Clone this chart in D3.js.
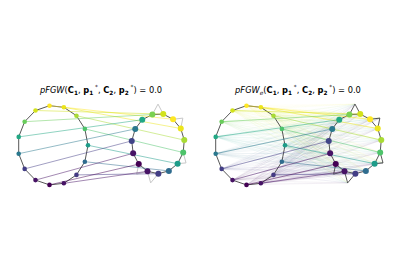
<!DOCTYPE html>
<html>
<head>
<meta charset="utf-8">
<script src="https://cdn.jsdelivr.net/npm/d3@7"></script>
<style>
  body { margin: 0; background: #fff; }
  svg { display: block; }
</style>
</head>
<body>
<svg id="chart" width="400" height="280"></svg>
<script>
// graph 1: ring of 15 nodes
const g1X = [-0.10, 0.31, 0.67, 0.91, 1.00, 0.91, 0.67, 0.31, -0.10, -0.50, -0.81, -0.98, -0.98, -0.81, -0.50]
const g1Y = [0.99, 0.95, 0.74, 0.41, 0.00, -0.41, -0.74, -0.95, -0.99, -0.87, -0.59, -0.21, 0.21, 0.59, 0.87]
const g1Val = [1.0, 0.97, 0.87, 0.72, 0.55, 0.35, 0.17, 0.05, 0.0, 0.05, 0.18, 0.4, 0.6, 0.77, 0.93]

// graph 2: ring of 15 nodes + 5 outlier nodes
const g2X = [2.84, 3.15, 3.43, 3.65, 3.75, 3.72, 3.56, 3.31, 3.01, 2.70, 2.45, 2.29, 2.25, 2.35, 2.55]
const g2Y = [0.77, 0.78, 0.65, 0.42, 0.13, -0.18, -0.46, -0.64, -0.71, -0.65, -0.47, -0.20, 0.11, 0.41, 0.64]
const g2Val = [0.8, 0.93, 1.0, 0.97, 0.87, 0.72, 0.55, 0.35, 0.18, 0.05, 0.0, 0.05, 0.2, 0.4, 0.6]
const outX = [3.0, 3.71, 3.8, 2.79, 2.39]
const outY = [1.03, 0.68, -0.44, -0.94, -0.72]
const outAttach = [[0, 1], [2, 3], [5, 6], [8, 9], [9, 10]]

// node of graph 2 that each node of graph 1 is sent to
const matching = [2, 3, 4, 5, 6, 7, 8, 9, 10, 11, 12, 13, 14, 0, 1]

const panelOffsets = [0, 197]
const titleNames = [['pFGW', null], ['pFGW', 'e']]
const titleValues = ['0.0', '0.0']

const svg = d3.select('#chart')
const x = d3.scaleLinear().domain([-1, 3.8]).range([18, 186])
const y = d3.scaleLinear().domain([-1, 1]).range([185.3, 105.3])
const color = d3.interpolateViridis

const ring = d3.range(g1X.length)
const ring1Edges = ring.map(i => [i, (i + 1) % ring.length])
const ring2Edges = ring.map(i => [i, (i + 1) % ring.length])
const outEdges = []
outAttach.forEach((pair, k) => pair.forEach(j => outEdges.push([k, j])))

function drawTitle(g, k) {
  const t = g.append('text')
    .attr('x', 101)
    .attr('y', 92.5)
    .attr('text-anchor', 'middle')
    .style('font-family', 'DejaVu Sans')
    .style('font-size', '8.3px')
    .attr('fill', '#000')
  const parts = [{ s: titleNames[k][0], it: true }]
  if (titleNames[k][1]) parts.push({ s: titleNames[k][1], it: true, sub: true })
  parts.push({ s: '(' })
  const args = [['C', '1', false], ['p', '1', true], ['C', '2', false], ['p', '2', true]]
  args.forEach((a, i) => {
    parts.push({ s: a[0], bold: true })
    parts.push({ s: a[1], bold: true, sub: true })
    if (a[2]) parts.push({ s: ' *', sup: true })
    if (i < args.length - 1) parts.push({ s: ', ' })
  })
  parts.push({ s: ') = ' + titleValues[k] })

  let shift = 0
  parts.forEach(p => {
    let target = 0
    if (p.sub) target = 2
    if (p.sup) target = -3.5
    t.append('tspan')
      .attr('dy', target - shift)
      .style('font-style', p.it ? 'italic' : 'normal')
      .style('font-weight', p.bold ? 'bold' : 'normal')
      .style('font-size', p.sub || p.sup ? '5.8px' : '8.3px')
      .text(p.s)
    shift = target
  })
}

panelOffsets.forEach((dx, k) => {
  const g = svg.append('g').attr('transform', `translate(${dx},0)`)
  const entropic = k === 1

  drawTitle(g, k)

  // faint transport lines (entropic plan)
  if (entropic) {
    const pairs = []
    ring.forEach(i => {
      g2X.forEach((v, j) => pairs.push([i, g2X[j], g2Y[j]]))
      outX.forEach((v, j) => pairs.push([i, outX[j], outY[j]]))
    })
    g.append('g')
      .selectAll('line')
      .data(pairs)
      .join('line')
      .attr('x1', d => x(g1X[d[0]]))
      .attr('y1', d => y(g1Y[d[0]]))
      .attr('x2', d => x(d[1]))
      .attr('y2', d => y(d[2]))
      .attr('stroke', d => color(g1Val[d[0]]))
      .attr('stroke-width', 0.8)
      .attr('stroke-opacity', 0.06)
  }

  // graph edges
  const edges = g.append('g').attr('fill', 'none')
  edges.selectAll('line.e1')
    .data(ring1Edges)
    .join('line')
    .attr('class', 'e1')
    .attr('x1', d => x(g1X[d[0]]))
    .attr('y1', d => y(g1Y[d[0]]))
    .attr('x2', d => x(g1X[d[1]]))
    .attr('y2', d => y(g1Y[d[1]]))
    .attr('stroke', '#3a3a3a')
    .attr('stroke-opacity', 0.85)
    .attr('stroke-width', 1)
  edges.selectAll('line.e2')
    .data(ring2Edges)
    .join('line')
    .attr('class', 'e2')
    .attr('x1', d => x(g2X[d[0]]))
    .attr('y1', d => y(g2Y[d[0]]))
    .attr('x2', d => x(g2X[d[1]]))
    .attr('y2', d => y(g2Y[d[1]]))
    .attr('stroke', '#3a3a3a')
    .attr('stroke-opacity', 0.85)
    .attr('stroke-width', 1)
  edges.selectAll('line.eo')
    .data(outEdges)
    .join('line')
    .attr('class', 'eo')
    .attr('x1', d => x(outX[d[0]]))
    .attr('y1', d => y(outY[d[0]]))
    .attr('x2', d => x(g2X[d[1]]))
    .attr('y2', d => y(g2Y[d[1]]))
    .attr('stroke', entropic ? '#3a3a3a' : '#c8c8c8')
    .attr('stroke-opacity', entropic ? 0.85 : 1)
    .attr('stroke-width', 1)

  // main transport lines
  g.append('g')
    .selectAll('line')
    .data(ring)
    .join('line')
    .attr('x1', i => x(g1X[i]))
    .attr('y1', i => y(g1Y[i]))
    .attr('x2', i => x(g2X[matching[i]]))
    .attr('y2', i => y(g2Y[matching[i]]))
    .attr('stroke', i => color(g1Val[i]))
    .attr('stroke-opacity', 0.5)
    .attr('stroke-width', 1)

  // nodes
  g.append('g')
    .selectAll('circle')
    .data(ring)
    .join('circle')
    .attr('cx', i => x(g1X[i]))
    .attr('cy', i => y(g1Y[i]))
    .attr('r', 2.3)
    .attr('fill', i => color(g1Val[i]))
  g.append('g')
    .selectAll('circle')
    .data(ring)
    .join('circle')
    .attr('cx', i => x(g2X[i]))
    .attr('cy', i => y(g2Y[i]))
    .attr('r', 3)
    .attr('fill', i => color(g2Val[i]))
})
</script>
</body>
</html>
